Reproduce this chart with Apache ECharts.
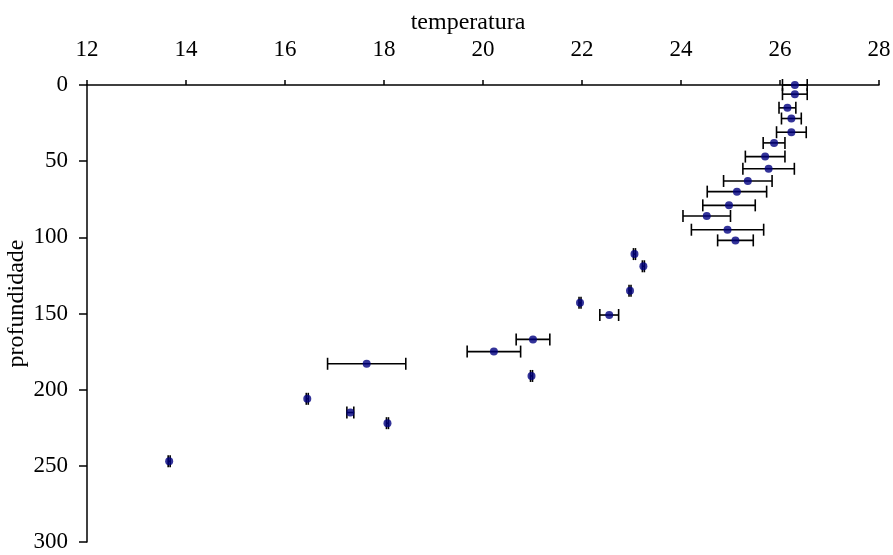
<!DOCTYPE html>
<html>
<head>
<meta charset="utf-8">
<script src="https://cdn.jsdelivr.net/npm/echarts@6/dist/echarts.min.js"></script>
<style>
  html, body { margin: 0; padding: 0; background: #ffffff; }
  #chart { width: 893px; height: 555px; }
</style>
</head>
<body>
<div id="chart"></div>
<script>
// Temperature profile: depth (m) against temperature (°C) with ± temperature spread
const depth = [0, 6, 15, 22, 31, 38, 47, 55, 63, 70, 79, 86, 95, 102,
               111, 119, 135, 143, 151, 167, 175, 183, 191, 206, 215, 222, 247];
const temperature = [26.30, 26.30, 26.15, 26.23, 26.23, 25.88, 25.70, 25.77, 25.35, 25.13, 24.97, 24.52, 24.94, 25.10,
                     23.06, 23.24, 22.97, 21.96, 22.55, 21.01, 20.22, 17.65, 20.98, 16.45, 17.32, 18.07, 13.66];
const tempError = [0.25, 0.25, 0.17, 0.20, 0.30, 0.22, 0.40, 0.52, 0.49, 0.60, 0.53, 0.48, 0.73, 0.36,
                   0.02, 0.02, 0.02, 0.02, 0.19, 0.34, 0.54, 0.79, 0.02, 0.02, 0.07, 0.02, 0.02];
const xTicks = { min: 12, max: 28, step: 2 };
const yTicks = { min: 0, max: 300, step: 50 };

const FONT = "'Liberation Serif', 'Times New Roman', serif";

const rows = depth.map((d, i) => [temperature[i], d, tempError[i]]);

const chart = echarts.init(document.getElementById('chart'), null, { renderer: 'canvas' });

chart.setOption({
  backgroundColor: '#ffffff',
  animation: false,
  grid: { left: 87, right: 14, top: 85, bottom: 13, containLabel: false, outerBoundsMode: 'none' },
  xAxis: {
    type: 'value',
    position: 'top',
    min: xTicks.min, max: xTicks.max, interval: xTicks.step,
    name: 'temperatura',
    nameLocation: 'middle',
    nameGap: 50,
    nameMoveOverlap: false,
    nameTextStyle: { fontFamily: FONT, fontSize: 24, color: '#000', padding: [0, 30, 0, 0] },
    axisLine: { show: true, onZero: false, lineStyle: { color: '#000', width: 1.5 } },
    axisTick: { show: true, inside: false, length: 5, lineStyle: { color: '#000', width: 1.5 } },
    axisLabel: { fontFamily: FONT, fontSize: 23, color: '#000', margin: 24 },
    splitLine: { show: false }
  },
  yAxis: {
    type: 'value',
    inverse: true,
    min: yTicks.min, max: yTicks.max, interval: yTicks.step,
    name: 'profundidade',
    nameLocation: 'middle',
    nameGap: 58,
    nameRotate: 90,
    nameMoveOverlap: false,
    nameTextStyle: { fontFamily: FONT, fontSize: 24, color: '#000', padding: [0, 0, 0, 20] },
    axisLine: { show: true, onZero: false, lineStyle: { color: '#000', width: 1.5 } },
    axisTick: { show: true, inside: false, length: 8, lineStyle: { color: '#000', width: 1.5 } },
    axisLabel: { fontFamily: FONT, fontSize: 23, color: '#000', margin: 19 },
    splitLine: { show: false }
  },
  series: [
    {
      // horizontal error bars with end caps
      type: 'custom',
      name: 'erro',
      data: rows,
      z: 2,
      renderItem: function (params, api) {
        const t = api.value(0), d = api.value(1), e = api.value(2);
        const left = api.coord([t - e, d]);
        const right = api.coord([t + e, d]);
        const cap = 6;
        const style = { stroke: '#000', lineWidth: 1.6 };
        return {
          type: 'group',
          children: [
            { type: 'line', shape: { x1: left[0], y1: left[1], x2: right[0], y2: right[1] }, style: style },
            { type: 'line', shape: { x1: left[0], y1: left[1] - cap, x2: left[0], y2: left[1] + cap }, style: style },
            { type: 'line', shape: { x1: right[0], y1: right[1] - cap, x2: right[0], y2: right[1] + cap }, style: style }
          ]
        };
      },
      encode: { x: 0, y: 1 }
    },
    {
      type: 'scatter',
      name: 'temperatura',
      data: rows.map(r => [r[0], r[1]]),
      symbol: 'circle',
      symbolSize: [8, 8],
      itemStyle: { color: '#000080' },
      z: 3
    }
  ]
});
</script>
</body>
</html>
